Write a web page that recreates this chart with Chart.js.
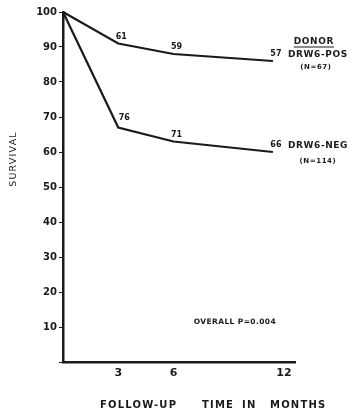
<!DOCTYPE html>
<html>
<head>
<meta charset="utf-8">
<script src="https://cdn.jsdelivr.net/npm/chart.js@4/dist/chart.umd.min.js"></script>
<style>
  body { margin: 0; background: #fff; }
  canvas { display: block; }
</style>
</head>
<body>
<canvas id="survivalChart" width="353" height="412"></canvas>
<script>
// follow-up months and survival (%) per donor group
const months = [0, 3, 6, 11.4];
const survivalPos = [100, 91, 88, 86];
const survivalNeg = [100, 67, 63, 60];
// patients still at risk at each follow-up point
const atRiskPos = [null, 61, 59, 57];
const atRiskNeg = [null, 76, 71, 66];
const monthTicks = [3, 6, 12];
const groupNames = ["DRW6-POS", "DRW6-NEG"];
const groupSizes = ["(N=67)", "(N=114)"];
const pValueText = "OVERALL P=0.004";

const ink = "#1a1a1a";
const font = "'DejaVu Sans', sans-serif";

const toPoints = ys => months.map((m, i) => ({ x: m, y: ys[i] }));

// labels, legend text and axis titles drawn straight onto the canvas
const annotations = {
  id: "annotations",
  afterDatasetsDraw(chart) {
    const ctx = chart.ctx;
    ctx.save();
    ctx.fillStyle = ink;
    ctx.strokeStyle = ink;
    ctx.textBaseline = "middle";

    // numbers at risk above each point
    ctx.font = "bold 8px " + font;
    ctx.textAlign = "center";
    [atRiskPos, atRiskNeg].forEach((counts, d) => {
      const pts = chart.getDatasetMeta(d).data;
      counts.forEach((n, i) => {
        if (n == null) return;
        const steep = d === 1 && i === 1;
        ctx.fillText(String(n), pts[i].x + (steep ? 6 : 3), pts[i].y - (steep ? 10 : 7));
      });
    });

    // group names at the end of each curve
    ctx.letterSpacing = "0.6px";
    const endPos = chart.getDatasetMeta(0).data[months.length - 1];
    const endNeg = chart.getDatasetMeta(1).data[months.length - 1];
    ctx.font = "bold 9px " + font;
    ctx.textAlign = "left";
    ctx.fillText(groupNames[0], endPos.x + 15, endPos.y - 6);
    ctx.fillText(groupNames[1], endNeg.x + 15, endNeg.y - 6);
    ctx.font = "bold 7px " + font;
    ctx.textAlign = "center";
    ctx.fillText(groupSizes[0], endPos.x + 43, endPos.y + 6);
    ctx.fillText(groupSizes[1], endNeg.x + 45, endNeg.y + 9);

    ctx.font = "bold 9px " + font;
    const hx = endPos.x + 41, hy = endPos.y - 19;
    ctx.fillText("DONOR", hx, hy);
    const w = ctx.measureText("DONOR").width;
    ctx.lineWidth = 1;
    ctx.beginPath();
    ctx.moveTo(hx - w / 2, hy + 5);
    ctx.lineTo(hx + w / 2, hy + 5);
    ctx.stroke();

    // p value inside the plot area
    const x = chart.scales.x, y = chart.scales.y;
    ctx.font = "bold 7.5px " + font;
    ctx.letterSpacing = "0.4px";
    ctx.textAlign = "left";
    ctx.fillText(pValueText, x.getPixelForValue(7.1), y.getPixelForValue(11.4));

    // x axis title, words spread wide
    ctx.font = "bold 10px " + font;
    ctx.letterSpacing = "1.2px";
    const words = ["FOLLOW-UP", "TIME", "IN", "MONTHS"];
    const starts = [100, 202, 242, 270];
    words.forEach((wd, i) => ctx.fillText(wd, starts[i], 405));

    // y axis title
    ctx.font = "9.5px " + font;
    ctx.letterSpacing = "1.2px";
    ctx.translate(14, 159);
    ctx.rotate(-Math.PI / 2);
    ctx.textAlign = "center";
    ctx.fillText("SURVIVAL", 0, 0);
    ctx.restore();
  }
};

new Chart(document.getElementById("survivalChart"), {
  type: "line",
  data: {
    datasets: [
      { label: groupNames[0], data: toPoints(survivalPos) },
      { label: groupNames[1], data: toPoints(survivalNeg) }
    ].map(ds => Object.assign(ds, {
      borderColor: ink,
      borderWidth: 2.2,
      pointRadius: 0,
      tension: 0,
      clip: false
    }))
  },
  options: {
    responsive: false,
    animation: false,
    layout: { padding: { top: 12, right: 58, bottom: 0, left: 0 } },
    plugins: {
      legend: { display: false },
      tooltip: { enabled: false }
    },
    scales: {
      x: {
        type: "linear",
        min: 0,
        max: 12.6,
        afterBuildTicks: s => { s.ticks = monthTicks.map(v => ({ value: v })); },
        afterFit: s => { s.height = 50; },
        grid: { drawOnChartArea: false, drawTicks: false },
        border: { display: true, color: ink, width: 2.5 },
        ticks: { color: ink, padding: 5, font: { family: font, size: 11, weight: "bold" } }
      },
      y: {
        min: 0,
        max: 100,
        afterFit: s => { s.width = 63; },
        grid: { drawOnChartArea: false, tickLength: 4, tickColor: ink },
        border: { display: true, color: ink, width: 2.5 },
        ticks: {
          stepSize: 10,
          padding: 2,
          color: ink,
          font: { family: font, size: 10, weight: "bold" },
          callback: v => (v === 0 ? "" : v)
        }
      }
    }
  },
  plugins: [annotations]
});
</script>
</body>
</html>
